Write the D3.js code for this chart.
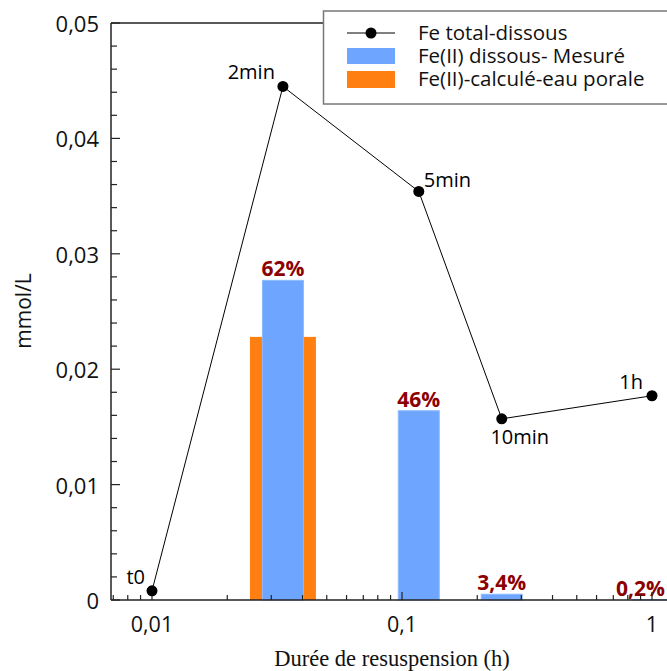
<!DOCTYPE html>
<html>
<head>
<meta charset="utf-8">
<script src="https://cdn.jsdelivr.net/npm/d3@7/dist/d3.min.js"></script>
<style>
  html, body { margin: 0; padding: 0; background: #fff; }
  svg { display: block; }
</style>
</head>
<body>
<svg id="chart" width="667" height="671"></svg>
<script>
// ---------------- DATA ----------------
const pointLabels = ["t0", "2min", "5min", "10min", "1h"];
const pointTimes  = [0.01, 0.0334, 0.1167, 0.2506, 1.0];      // h
const feTotal     = [0.0008, 0.0445, 0.0354, 0.0157, 0.0177];  // mmol/L

const barTimes    = [0.0334, 0.1167, 0.2506, 1.0];
const fe2Measured = [0.0277, 0.0164, 0.0005, 0.00004];
const pctLabels   = ["62%", "46%", "3,4%", "0,2%"];

const calcTimes   = [0.0334];
const fe2Calc     = [0.0228];

const yTickValues = [0, 0.01, 0.02, 0.03, 0.04, 0.05];
const yTickLabels = ["0", "0,01", "0,02", "0,03", "0,04", "0,05"];
const xTickValues = [0.01, 0.1, 1];
const xTickLabels = ["0,01", "0,1", "1"];

const legendLabels = ["Fe total-dissous", "Fe(II) dissous- Mesuré", "Fe(II)-calculé-eau porale"];
const xTitle = "Durée de resuspension (h)";
const yTitle = "mmol/L";

// ---------------- LAYOUT ----------------
const W = 667, H = 671;
const plot = { left: 111, right: 667, top: 23, bottom: 600 };
const xDomain = [0.006855, 1.148];
const yDomain = [0, 0.05];
const blueColor = "#6ea6ff", blueStroke = "#8db9ff";
const orangeColor = "#ff8010";
const pctColor = "#8b0000";
const axisColor = "#222";
const sans = "'Open Sans', 'DejaVu Sans', sans-serif";
const serif = "'Liberation Serif', 'Times New Roman', serif";

const svg = d3.select("#chart");
const x = d3.scaleLog().domain(xDomain).range([plot.left, plot.right]);
const y = d3.scaleLinear().domain(yDomain).range([plot.bottom, plot.top]);

// bars: measured (blue, narrower) over calculated (orange, wider)
const blueW = 41, orangeW = 66;
svg.append("g").selectAll("rect").data(calcTimes.map((t, i) => ({ t, v: fe2Calc[i] })))
  .join("rect")
  .attr("x", d => x(d.t) - orangeW / 2)
  .attr("width", orangeW)
  .attr("y", d => y(d.v))
  .attr("height", d => y(0) - y(d.v))
  .attr("fill", orangeColor);

svg.append("g").selectAll("rect").data(barTimes.map((t, i) => ({ t, v: fe2Measured[i] })))
  .join("rect")
  .attr("x", d => x(d.t) - blueW / 2)
  .attr("width", blueW)
  .attr("y", d => y(d.v))
  .attr("height", d => y(0) - y(d.v))
  .attr("fill", blueColor)
  .attr("stroke", blueStroke)
  .attr("stroke-width", 1);

// percentage labels
const pctG = svg.append("g");
barTimes.forEach((t, i) => {
  const txt = pctG.append("text")
    .attr("y", y(fe2Measured[i]) - 4)
    .attr("text-anchor", "middle")
    .attr("font-family", sans)
    .attr("font-weight", "bold")
    .attr("font-size", 21)
    .attr("fill", pctColor)
    .text(pctLabels[i]);
  const half = txt.node().getComputedTextLength() / 2;
  txt.attr("x", Math.min(x(t), W - 2 - half));
});

// axes frame
const axG = svg.append("g").attr("stroke", axisColor).attr("stroke-width", 1.5);
axG.append("line").attr("x1", plot.left).attr("x2", plot.left).attr("y1", plot.top).attr("y2", plot.bottom);
axG.append("line").attr("x1", plot.left).attr("x2", plot.right).attr("y1", plot.bottom).attr("y2", plot.bottom);
axG.append("line").attr("x1", plot.left).attr("x2", plot.right).attr("y1", plot.top).attr("y2", plot.top);

// y ticks (inward)
const yMinor = d3.range(0, 0.05001, 0.002);
axG.selectAll(".ym").data(yMinor).join("line")
  .attr("x1", plot.left).attr("x2", d => plot.left + (yTickValues.some(v => Math.abs(v - d) < 1e-9) ? 9 : 6))
  .attr("y1", d => y(d)).attr("y2", d => y(d)).attr("stroke-width", 1.2);
svg.append("g").selectAll("text").data(yTickValues).join("text")
  .attr("x", plot.left - 12)
  .attr("y", d => y(d) + 9)
  .attr("text-anchor", "end")
  .attr("font-family", sans).attr("font-size", 22).attr("fill", "#111")
  .text((d, i) => yTickLabels[i]);

// x ticks (inward, log)
const xAll = x.ticks().filter(d => d >= xDomain[0] && d <= xDomain[1]);
axG.selectAll(".xm").data(xAll).join("line")
  .attr("x1", d => x(d)).attr("x2", d => x(d))
  .attr("y1", plot.bottom)
  .attr("y2", d => plot.bottom - (xTickValues.some(v => Math.abs(v - d) / v < 1e-6) ? 8 : 5))
  .attr("stroke-width", 1.2);
svg.append("g").selectAll("text").data(xTickValues).join("text")
  .attr("x", d => x(d))
  .attr("y", plot.bottom + 32)
  .attr("text-anchor", "middle")
  .attr("font-family", sans).attr("font-size", 21.5).attr("fill", "#111")
  .text((d, i) => xTickLabels[i]);

// line series
const pts = pointTimes.map((t, i) => ({ t, v: feTotal[i], label: pointLabels[i] }));
svg.append("path").datum(pts)
  .attr("d", d3.line().x(d => x(d.t)).y(d => y(d.v)))
  .attr("fill", "none").attr("stroke", "#000").attr("stroke-width", 1);
svg.append("g").selectAll("circle").data(pts).join("circle")
  .attr("cx", d => x(d.t)).attr("cy", d => y(d.v)).attr("r", 5.5).attr("fill", "#000");

// point annotations
const labelPos = {
  "t0":    { dx: -7, dy: -7, anchor: "end" },
  "2min":  { dx: -8, dy: -7, anchor: "end" },
  "5min":  { dx: 5,  dy: -4, anchor: "start" },
  "10min": { dx: 18, dy: 25, anchor: "middle" },
  "1h":    { dx: -9, dy: -7, anchor: "end" }
};
svg.append("g").selectAll("text").data(pts).join("text")
  .attr("x", d => x(d.t) + labelPos[d.label].dx)
  .attr("y", d => y(d.v) + labelPos[d.label].dy)
  .attr("text-anchor", d => labelPos[d.label].anchor)
  .attr("font-family", sans).attr("font-size", 20).attr("fill", "#000")
  .text(d => d.label);

// legend
const lg = svg.append("g");
lg.append("rect").attr("x", 323.5).attr("y", 11).attr("width", 400).attr("height", 93)
  .attr("fill", "#fff").attr("stroke", "#777").attr("stroke-width", 1.5);
const rowY = [33, 56, 79];
lg.append("line").attr("x1", 347).attr("x2", 395).attr("y1", rowY[0]).attr("y2", rowY[0])
  .attr("stroke", "#000").attr("stroke-width", 1);
lg.append("circle").attr("cx", 371).attr("cy", rowY[0]).attr("r", 5.5).attr("fill", "#000");
lg.append("rect").attr("x", 347).attr("y", 48).attr("width", 48).attr("height", 16).attr("fill", blueColor);
lg.append("rect").attr("x", 347).attr("y", 71).attr("width", 48).attr("height", 17).attr("fill", orangeColor);
lg.selectAll("text").data(legendLabels).join("text")
  .attr("x", 418).attr("y", (d, i) => rowY[i] + 7)
  .attr("font-family", sans).attr("font-size", 20.5).attr("fill", "#111")
  .text(d => d);

// axis titles
svg.append("text").attr("x", 392).attr("y", 666).attr("text-anchor", "middle")
  .attr("font-family", serif).attr("font-size", 22.5).attr("fill", "#111").text(xTitle);
svg.append("text").attr("transform", "translate(31,311) rotate(-90)").attr("text-anchor", "middle")
  .attr("font-family", sans).attr("font-size", 21).attr("fill", "#111").text(yTitle);
</script>
</body>
</html>
